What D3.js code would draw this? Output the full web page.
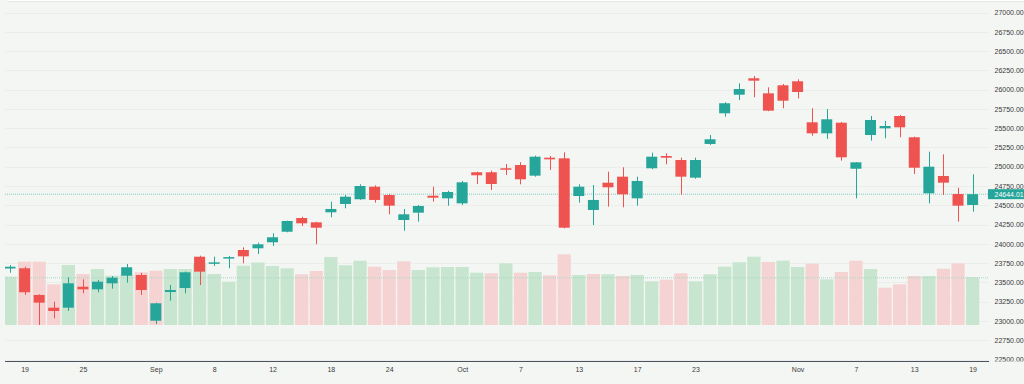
<!DOCTYPE html>
<html>
<head>
<meta charset="utf-8">
<script src="https://cdn.jsdelivr.net/npm/d3@7"></script>
<style>
  html, body { margin: 0; padding: 0; background: #f4f6f3; }
  svg { display: block; font-family: "Liberation Sans", Arial, sans-serif; }
</style>
</head>
<body>
<div id="chart"></div>
<script>
const dates = [
  "2025-08-18", "2025-08-19", "2025-08-20", "2025-08-21", "2025-08-22",
  "2025-08-25", "2025-08-26", "2025-08-27", "2025-08-28", "2025-08-29",
  "2025-09-02", "2025-09-03", "2025-09-04", "2025-09-05",
  "2025-09-08", "2025-09-09", "2025-09-10", "2025-09-11", "2025-09-12",
  "2025-09-15", "2025-09-16", "2025-09-17", "2025-09-18", "2025-09-19",
  "2025-09-22", "2025-09-23", "2025-09-24", "2025-09-25", "2025-09-26",
  "2025-09-29", "2025-09-30", "2025-10-01", "2025-10-02", "2025-10-03",
  "2025-10-06", "2025-10-07", "2025-10-08", "2025-10-09", "2025-10-10",
  "2025-10-13", "2025-10-14", "2025-10-15", "2025-10-16", "2025-10-17",
  "2025-10-20", "2025-10-21", "2025-10-22", "2025-10-23", "2025-10-24",
  "2025-10-27", "2025-10-28", "2025-10-29", "2025-10-30", "2025-10-31",
  "2025-11-03", "2025-11-04", "2025-11-05", "2025-11-06", "2025-11-07",
  "2025-11-10", "2025-11-11", "2025-11-12", "2025-11-13", "2025-11-14",
  "2025-11-17", "2025-11-18", "2025-11-19"
];

const opens = [
  23680, 23683, 23337, 23172, 23172, 23444, 23410, 23488, 23587, 23596,
  23003, 23375, 23427, 23833, 23743, 23816, 23920, 23942, 24020, 24157,
  24335, 24279, 24409, 24517, 24578, 24741, 24633, 24309, 24404, 24624,
  24590, 24525, 24928, 24928, 24980, 25022, 24884, 25117, 25109, 24620,
  24439, 24793, 24871, 24590, 24980, 25139, 25087, 24858, 25295, 25693,
  25934, 26147, 25952, 26056, 26108, 25576, 25433, 25571, 24974, 25411,
  25498, 25658, 25382, 24655, 24880, 24646, 24504
];
const highs = [
  23725, 23704, 23345, 23250, 23566, 23540, 23531, 23583, 23739, 23625,
  23237, 23466, 23640, 23846, 23833, 23840, 23955, 24015, 24137, 24300,
  24352, 24285, 24547, 24633, 24772, 24759, 24646, 24452, 24504, 24741,
  24689, 24815, 24935, 24949, 25035, 25057, 25143, 25139, 25187, 24772,
  24763, 24936, 24993, 24871, 25182, 25174, 25117, 25117, 25411, 25836,
  26082, 26177, 26030, 26073, 26134, 25758, 25749, 25580, 25060, 25658,
  25593, 25671, 25390, 25195, 25161, 24728, 24902
];
const lows = [
  23625, 23337, 22947, 23034, 23129, 23359, 23370, 23418, 23496, 23337,
  22960, 23263, 23359, 23466, 23713, 23683, 23748, 23868, 23972, 24150,
  24231, 23994, 24344, 24461, 24570, 24534, 24383, 24170, 24287, 24547,
  24495, 24504, 24776, 24698, 24893, 24772, 24871, 24958, 24202, 24534,
  24244, 24482, 24474, 24495, 24967, 25031, 24637, 24845, 25282, 25649,
  25865, 25900, 25720, 25758, 25887, 25402, 25360, 25078, 24590, 25338,
  25369, 25382, 24906, 24525, 24633, 24287, 24417
];
const closes = [
  23703, 23372, 23237, 23129, 23488, 23410, 23509, 23561, 23696, 23401,
  23229, 23401, 23631, 23639, 23760, 23828, 23838, 23994, 24085, 24296,
  24266, 24209, 24452, 24611, 24750, 24569, 24495, 24383, 24491, 24598,
  24672, 24798, 24889, 24776, 24962, 24837, 25130, 25096, 24209, 24741,
  24569, 24733, 24642, 24815, 25130, 25117, 24871, 25087, 25356, 25823,
  26008, 26116, 25727, 25856, 25969, 25433, 25615, 25122, 25057, 25606,
  25528, 25511, 24987, 25000, 24793, 24495, 24644.01
];
const volumes = [
  483, 633, 633, 407, 600, 510, 560, 493, 500, 527,
  543, 560, 560, 617, 510, 433, 593, 625, 590, 567,
  507, 540, 680, 597, 643, 583, 550, 637, 550, 577,
  580, 580, 523, 517, 617, 523, 530, 497, 707, 500,
  510, 507, 490, 500, 437, 453, 517, 437, 507, 583,
  628, 683, 630, 643, 580, 613, 457, 530, 643, 560,
  373, 407, 490, 490, 563, 617, 477
];

const tickDates = [
  "2025-08-19", "2025-08-25", "2025-09-02", "2025-09-08", "2025-09-12",
  "2025-09-18", "2025-09-24", "2025-10-01", "2025-10-07", "2025-10-13",
  "2025-10-17", "2025-10-23", "2025-11-03", "2025-11-07", "2025-11-13",
  "2025-11-19"
];
const tickLabels = [
  "19", "25", "Sep", "8", "12", "18", "24", "Oct", "7", "13", "17", "23",
  "Nov", "7", "13", "19"
];
const priceTicks = d3.range(22500, 27001, 250);


const upColor = '#26a69a',
      downColor = '#ef5350',
      volUpColor = '#c8e6cf',
      volDownColor = '#f6d3d3';

const main = () => {
  const w = 1024, h = 384;
  const left = 5, right = 989, axisY = 361;

  const candles = dates.map((d, i) => ({
    date: d,
    open: opens[i], high: highs[i], low: lows[i], close: closes[i],
    volume: volumes[i],
    volUp: i === 0 ? true : closes[i] >= closes[i - 1]
  }));

  const x = d3.scalePoint().domain(dates).range([10, 972.6]);
  const y = d3.scaleLinear().domain([22500, 27000]).range([359.5, 12.5]);
  const yVol = d3.scaleLinear().domain([0, 1000]).range([325, 225]);

  const step = x.step();
  const bodyW = 11,
        volW = step - 1.3;

  let svg = d3.select('#chart')
        .append('svg')
        .attr('width', w)
        .attr('height', h);

  svg.append('rect')
    .attr('width', w).attr('height', h)
    .attr('fill', '#f4f6f3');

  // thin white strip along the top
  svg.append('rect')
    .attr('x', 8).attr('y', 0).attr('width', w - 8).attr('height', 1.2)
    .attr('fill', '#ffffff');
  svg.append('line')
    .attr('x1', 8).attr('x2', w).attr('y1', 1.6).attr('y2', 1.6)
    .attr('stroke', '#e4e6e9');

  svg.append('clipPath').attr('id', 'plot')
    .append('rect')
    .attr('x', left).attr('y', 0)
    .attr('width', right - left).attr('height', axisY);

  svg.append('clipPath').attr('id', 'scale')
    .append('rect')
    .attr('x', right).attr('y', 0)
    .attr('width', w - right).attr('height', axisY + 0.5);

  let plot = svg.append('g').attr('clip-path', 'url(#plot)');

  // grid
  plot.append('g')
    .selectAll('line')
    .data(priceTicks)
    .join('line')
    .attr('x1', left).attr('x2', right)
    .attr('y1', (d) => Math.round(y(d)) + 0.5)
    .attr('y2', (d) => Math.round(y(d)) + 0.5)
    .attr('stroke', '#eaede9')
    .attr('stroke-width', 1);

  // volume
  plot.append('g')
    .selectAll('rect')
    .data(candles)
    .join('rect')
    .attr('x', (d) => x(d.date) - volW / 2)
    .attr('y', (d) => yVol(d.volume))
    .attr('width', volW)
    .attr('height', (d) => yVol(0) - yVol(d.volume))
    .attr('fill', (d) => d.volUp ? volUpColor : volDownColor);

  const last = candles[candles.length - 1];

  plot.append('line')
    .attr('x1', left).attr('x2', right)
    .attr('y1', yVol(last.volume) + 0.5).attr('y2', yVol(last.volume) + 0.5)
    .attr('stroke', '#a9d7c6')
    .attr('stroke-dasharray', '1,1');

  plot.append('line')
    .attr('x1', left).attr('x2', right)
    .attr('y1', y(last.close)).attr('y2', y(last.close))
    .attr('stroke', upColor)
    .attr('stroke-opacity', 0.55)
    .attr('stroke-dasharray', '1,1');

  // candles
  let candle = plot.append('g')
        .selectAll('g')
        .data(candles)
        .join('g')
        .attr('fill', (d) => d.close >= d.open ? upColor : downColor)
        .attr('stroke', (d) => d.close >= d.open ? upColor : downColor);

  candle.append('line')
    .attr('x1', (d) => Math.round(x(d.date)) + 0.5)
    .attr('x2', (d) => Math.round(x(d.date)) + 0.5)
    .attr('y1', (d) => y(d.high))
    .attr('y2', (d) => y(d.low))
    .attr('stroke-width', 1);

  candle.append('rect')
    .attr('x', (d) => x(d.date) - bodyW / 2)
    .attr('y', (d) => y(Math.max(d.open, d.close)))
    .attr('width', bodyW)
    .attr('height', (d) => Math.max(1.5, Math.abs(y(d.open) - y(d.close))))
    .attr('stroke', 'none');

  // x axis
  svg.append('line')
    .attr('x1', left).attr('x2', right)
    .attr('y1', axisY + 0.5).attr('y2', axisY + 0.5)
    .attr('stroke', '#4e5364');

  let axisX = d3.axisBottom(x)
        .tickValues(tickDates)
        .tickFormat((d) => tickLabels[tickDates.indexOf(d)])
        .tickSize(0)
        .tickPadding(5);

  svg.append('g')
    .attr('transform', `translate(0, ${axisY + 1})`)
    .call(axisX)
    .call((g) => g.select('.domain').remove())
    .selectAll('text')
    .attr('font-size', 7)
    .attr('font-family', '"Liberation Sans", Arial, sans-serif')
    .attr('fill', '#3a3a3a');

  // price scale
  let axisRight = d3.axisRight(y)
        .tickValues(priceTicks)
        .tickFormat(d3.format('.2f'))
        .tickSize(0)
        .tickPadding(0);

  svg.append('g')
    .attr('clip-path', 'url(#scale)')
    .append('g')
    .attr('transform', 'translate(994.5, 0)')
    .call(axisRight)
    .call((g) => g.select('.domain').remove())
    .selectAll('text')
    .attr('font-size', 7)
    .attr('font-family', '"Liberation Sans", Arial, sans-serif')
    .attr('fill', '#3a3a3a');

  // last price tag
  let tag = svg.append('g')
        .attr('transform', `translate(988, ${y(last.close)})`);
  tag.append('rect')
    .attr('x', 0).attr('y', -5)
    .attr('width', w - 988).attr('height', 10)
    .attr('fill', upColor);
  tag.append('text')
    .attr('x', 6.5).attr('y', 0)
    .attr('dy', '0.34em')
    .attr('font-size', 7)
    .attr('fill', '#ffffff')
    .text(d3.format('.2f')(last.close));
};

main();
</script>
</body>
</html>
